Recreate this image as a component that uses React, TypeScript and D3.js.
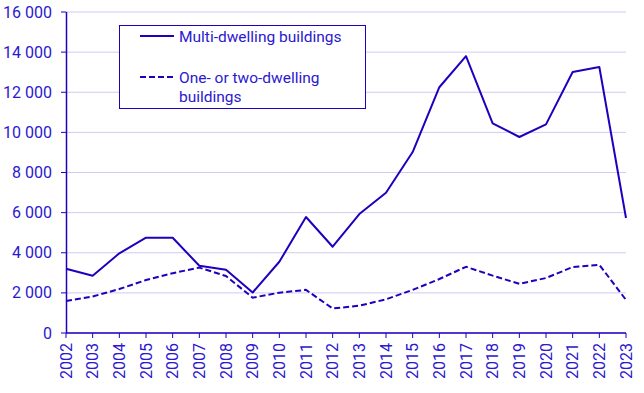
import { scaleLinear, line, range } from "d3";

const years = range(2002, 2024);
const multiDwelling = [
  3200, 2850, 3970, 4750, 4750, 3350, 3150, 2020, 3550, 5780, 4300, 5930, 6990,
  9020, 12250, 13800, 10450, 9770, 10400, 13010, 13260, 5730,
];
const oneTwoDwelling = [
  1600, 1820, 2190, 2640, 2980, 3260, 2840, 1760, 2010, 2150, 1220, 1360, 1680,
  2150, 2690, 3300, 2860, 2450, 2740, 3290, 3400, 1650,
];
const yTicks = [0, 2000, 4000, 6000, 8000, 10000, 12000, 14000, 16000];

const BLUE = "#1E00BE";
const TEXT = "#2B18D0";
const GRID = "#CFCBF3";
const FONT = "Roboto, 'Noto Sans', sans-serif";

const margin = { top: 12, right: 18, bottom: 60, left: 66 };
const W = 644;
const H = 393;
const width = W - margin.left - margin.right;
const height = H - margin.top - margin.bottom;

const fmt = (d: number) =>
  d >= 1000 ? `${Math.floor(d / 1000)} ${String(d % 1000).padStart(3, "0")}` : String(d);

export default function App() {
  const x = scaleLinear().domain([2002, 2023]).range([0, width]);
  const y = scaleLinear().domain([0, 16000]).range([height, 0]);

  const lineGen = line<number>()
    .x((_, i) => x(years[i]))
    .y((d) => y(d));

  return (
    <svg
      width={W}
      height={H}
      style={{ position: "absolute", left: 0, top: 0 }}
      fontFamily={FONT}
    >
      <g transform={`translate(${margin.left},${margin.top})`}>
        {/* grid */}
        {yTicks.map((t) => (
          <line
            key={`g${t}`}
            x1={0}
            x2={width}
            y1={y(t)}
            y2={y(t)}
            stroke={GRID}
            strokeWidth={1}
          />
        ))}

        {/* y axis */}
        <line x1={0.5} x2={0.5} y1={0} y2={height} stroke={BLUE} strokeWidth={1.5} />
        {yTicks.map((t) => (
          <g key={`y${t}`} transform={`translate(0,${y(t)})`}>
            <line x1={-5} x2={0} stroke={BLUE} strokeWidth={1} />
            <text
              x={-14}
              dy="0.35em"
              textAnchor="end"
              fontSize={16}
              fill={TEXT}
            >
              {fmt(t)}
            </text>
          </g>
        ))}

        {/* x axis */}
        <line x1={0} x2={width} y1={height} y2={height} stroke={BLUE} strokeWidth={1.5} />
        {years.map((yr) => (
          <g key={`x${yr}`} transform={`translate(${x(yr)},${height})`}>
            <line y1={0} y2={5} stroke={BLUE} strokeWidth={1} />
            <text
              transform="rotate(-90)"
              x={-10}
              dy="0.35em"
              textAnchor="end"
              fontSize={16}
              fill={TEXT}
            >
              {yr}
            </text>
          </g>
        ))}

        {/* series */}
        <path
          d={lineGen(multiDwelling) ?? ""}
          fill="none"
          stroke={BLUE}
          strokeWidth={2}
          strokeLinejoin="round"
        />
        <path
          d={lineGen(oneTwoDwelling) ?? ""}
          fill="none"
          stroke={BLUE}
          strokeWidth={2}
          strokeDasharray="6,3"
          strokeLinejoin="round"
        />
      </g>

      {/* legend */}
      <g>
        <rect x={119.5} y={25.5} width={246} height={83} fill="white" stroke={BLUE} strokeWidth={1} />
        <line x1={140} x2={174} y1={36} y2={36} stroke={BLUE} strokeWidth={2} />
        <text x={179} y={42} fontSize={15.5} fill={TEXT}>
          Multi-dwelling buildings
        </text>
        <line x1={140} x2={174} y1={77} y2={77} stroke={BLUE} strokeWidth={2} strokeDasharray="6,3" />
        <text x={179} y={83} fontSize={15.5} fill={TEXT}>
          One- or two-dwelling
        </text>
        <text x={179} y={101.5} fontSize={15.5} fill={TEXT}>
          buildings
        </text>
      </g>
    </svg>
  );
}
